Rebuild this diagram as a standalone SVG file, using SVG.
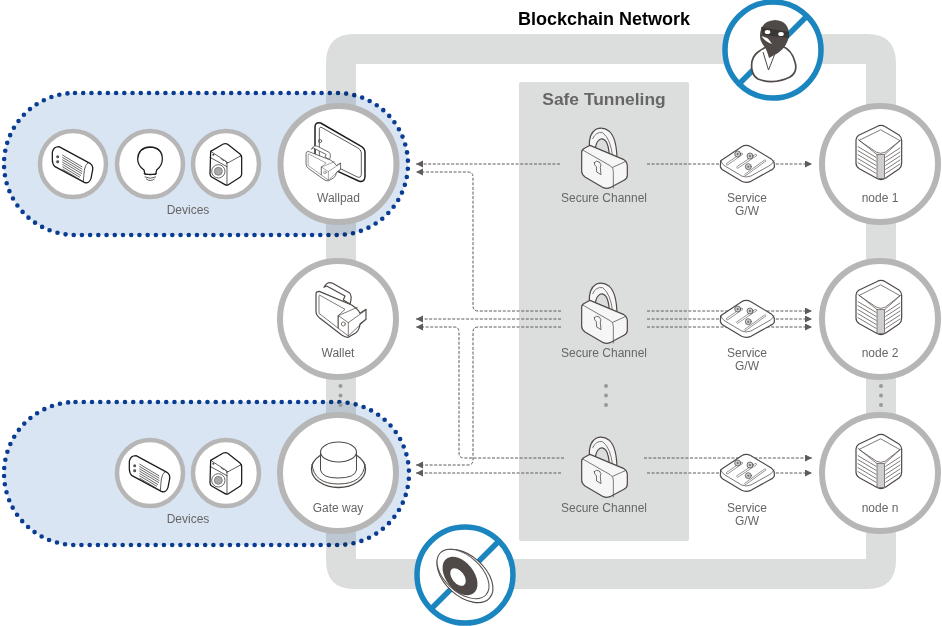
<svg xmlns="http://www.w3.org/2000/svg" width="942" height="626" viewBox="0 0 942 626">
<style>
text{font-family:"Liberation Sans",Arial,sans-serif;font-size:12px;fill:#666;text-anchor:middle}
.ttl{font-weight:bold;font-size:18px;fill:#000}
.safe{font-weight:bold;font-size:17.4px;fill:#666}
.pill{fill:#dae5f3;stroke:#0a3d91;stroke-width:4.6;stroke-linecap:round;mix-blend-mode:multiply}
.big{fill:#fff;stroke:#b5b6b5;stroke-width:6}
.small{fill:#fff;stroke:#b5b6b5;stroke-width:4.5}
.ban{fill:#fff;stroke:#1b85bf;stroke-width:5.5}
.slash{stroke:#1b85bf;stroke-width:5.5;fill:none}
.conn{fill:none;stroke:#5f5b58;stroke-width:1;stroke-dasharray:3 1.6}
.ic{fill:#fff;stroke:#4f4a47;stroke-width:3.6;stroke-linejoin:round;stroke-linecap:round}
.th{fill:none;stroke:#4f4a47;stroke-width:2.2;stroke-linecap:round;stroke-linejoin:round}
.bk{fill:#fff;stroke:#1c1c1c;stroke-width:3.8;stroke-linejoin:round;stroke-linecap:round}
.bt{fill:none;stroke:#222;stroke-width:2.2;stroke-linecap:round;stroke-linejoin:round}
.dot{fill:#999}
</style>
<defs>
<marker id="ah" markerUnits="userSpaceOnUse" markerWidth="8" markerHeight="8" refX="7" refY="3.5" orient="auto"><path d="M0 0L7 3.5L0 7Z" fill="#5f5b58"/></marker>
<g id="lock" transform="scale(.3333)">
<path class="ic" style="fill:#f6f6f6" d="M58 75Q56 35 78 22Q98 12 118 28Q140 48 141 112L118 100Q116 70 108 58Q96 45 86 55Q78 62 76 80Z"/>
<path class="th" d="M68 50Q78 28 98 32Q122 50 128 104"/>
<path class="ic" style="fill:#f6f6f6" d="M35 90Q35 82 45 78L60 70L160 112Q172 120 172 132V160Q172 170 162 175L120 197Q110 201 100 197L45 165Q35 158 35 148Z"/>
<path class="th" d="M38 84L122 132Q130 137 130 148V198M128 136L168 118"/>
<path class="ic" style="stroke-width:2.4;fill:#f6f6f6" d="M73 122Q78 114 88 120Q96 128 91 136L93 158L80 150L79 134Q72 130 73 122Z"/>
</g>
<g id="svc" transform="scale(.3333)">
<path class="ic" d="M17 62L80 20Q93 12 108 20L170 58Q178 65 178 72V82Q175 88 165 92L108 124Q93 130 80 124L30 94Q18 88 16 80Z"/>
<path class="th" d="M18 64Q20 72 30 78L80 108Q93 114 108 108L165 76Q175 70 177 62"/>
<path d="M37 72L80 42M68 82L122 46M92 104L150 62" stroke="#777" stroke-width="7" stroke-linecap="round" fill="none"/>
<path d="M37 72L80 42M68 82L122 46M92 104L150 62" stroke="#fff" stroke-width="3.4" stroke-linecap="round" fill="none"/>
<circle class="th" style="fill:#ccc" cx="68" cy="42" r="9"/><circle class="th" style="fill:#ccc" cx="105" cy="48" r="9"/><circle class="th" style="fill:#ccc" cx="100" cy="80" r="9"/>
<circle cx="68" cy="42" r="3" fill="#666"/><circle cx="105" cy="48" r="3" fill="#666"/><circle cx="100" cy="80" r="3" fill="#666"/>
</g>
<g id="cube" transform="scale(.3333)">
<path class="ic" d="M80 20Q93 12 106 20L148 46Q155 52 155 60V130Q155 140 148 146L106 175Q93 183 80 175L28 146Q18 140 18 130V60Q18 52 26 46Z"/>
<path class="th" d="M93 30L150 62L105 97Q93 103 80 97L28 62ZM24 58L80 103M155 58L105 103"/>
<rect x="81" y="104" width="23" height="72" fill="#cfcfcf" stroke="#4f4a47" stroke-width="2"/>
<path class="th" d="M24 80L78 112M24 92L78 124M24 104L78 136M24 116L78 148M24 128L78 160M107 112L150 84M107 124L150 96M107 136L150 108M107 148L150 120M107 160L150 132"/>
</g>
<g id="speaker" transform="scale(.3333)">
<path class="bk" d="M22 52Q25 35 42 35L135 85Q145 92 143 105L138 130Q132 148 118 142L30 95Q22 88 22 75Z"/>
<path class="bt" d="M130 82Q120 90 118 105L115 140"/>
<path d="M52 60L112 96M52 67L112 103M52 74L112 110M52 81L111 116M52 88L108 122M52 95L105 127M52 102L102 132" stroke="#444" stroke-width="2.4" fill="none"/>
<circle cx="38" cy="65" r="4.500" fill="#555"/><circle cx="38" cy="80" r="4.500" fill="#555"/>
</g>
<g id="washer" transform="scale(.3333)">
<g transform="translate(-495 -25)">
<path class="bk" d="M497 50L535 28Q542 25 548 29L585 58Q590 63 590 70V118Q590 124 585 128L550 150Q545 153 540 150L500 127Q495 123 495 117Z"/>
<path class="bt" d="M497 50L540 78Q546 82 546 90V152M495 68L546 96M590 62L546 86"/>
<circle cx="520" cy="110" r="20" fill="#fff" stroke="#666" stroke-width="3"/>
<circle cx="520" cy="110" r="12" fill="#aaa" stroke="#666" stroke-width="2"/>
<circle cx="505" cy="60" r="3" fill="#444"/>
<path class="bt" d="M528 72L536 78M540 78L548 84"/>
</g>
</g>
<g id="wl">
<path class="ic" d="M162 112Q172 92 188 100L238 128Q248 138 240 162L220 150L225 138L170 108Z"/>
<path class="ic" d="M138 132Q138 124 148 124L245 165Q265 178 270 190L288 178V208L270 222Q268 240 258 248L235 262Q225 262 215 255L150 205Q138 195 138 185Z"/>
<path class="th" d="M147 138V190L205 235V197L225 178L150 136ZM205 197L235 218V258L205 235ZM235 218L288 180M205 197L262 172M235 258L288 208"/>
<circle class="th" cx="220" cy="222" r="6"/>
</g>
</defs>

<g id="frame"><path fill="#dcdedd" fill-rule="evenodd" d="M354 34H867Q896 34 896 63V560Q896 589 867 589H354Q326 589 326 560V63Q326 34 354 34ZM356 64V559H866V64Z"/></g>
<rect id="tunnel" x="519" y="82" width="170" height="459" rx="2" fill="#dcdedd"/>
<text class="ttl" x="604" y="25">Blockchain Network</text>
<text class="safe" x="604" y="105">Safe Tunneling</text>

<rect id="pill1" class="pill" x="4" y="93" width="404" height="142" rx="71" stroke-dasharray="0 8.22"/>
<rect id="pill2" class="pill" x="4" y="402" width="405" height="143" rx="71.5" stroke-dasharray="0 8.248"/>

<g id="connectors">
<path class="conn" marker-end="url(#ah)" d="M560 164H416"/>
<path class="conn" marker-end="url(#ah)" d="M561 311H478Q473 311 473 306V177Q473 172 468 172H416"/>
<path class="conn" marker-end="url(#ah)" d="M561 319H416"/>
<path class="conn" marker-end="url(#ah)" d="M564 458H464Q459 458 459 453V332Q459 327 454 327H416"/>
<path class="conn" marker-end="url(#ah)" d="M561 327H478Q473 327 473 332V460Q473 465 468 465H416"/>
<path class="conn" marker-end="url(#ah)" d="M561 473H416"/>
<path class="conn" marker-end="url(#ah)" d="M647 164H812"/>
<path class="conn" marker-end="url(#ah)" d="M647 311H812"/>
<path class="conn" marker-end="url(#ah)" d="M647 319H812"/>
<path class="conn" marker-end="url(#ah)" d="M647 327H812"/>
<path class="conn" marker-end="url(#ah)" d="M644 458H812"/>
<path class="conn" marker-end="url(#ah)" d="M647 473H812"/>
</g>

<g id="dev1"><circle class="small" cx="73" cy="164" r="33"/><use href="#speaker" x="45" y="135"/></g>
<g id="dev2"><circle class="small" cx="150" cy="164" r="33"/>
<g transform="translate(45 135) scale(.3333)"><path class="bk" d="M297 105Q278 92 278 72Q280 38 315 36Q352 38 352 72Q352 92 335 105L332 118H300Z"/><path class="bt" d="M297 116Q316 124 335 116M300 126Q316 134 332 126M304 132Q316 142 328 132"/></g></g>
<g id="dev3"><circle class="small" cx="226" cy="164" r="33"/><use href="#washer" x="210" y="143"/></g>
<text x="188" y="214">Devices</text>

<g id="wallpad"><circle class="big" cx="338.5" cy="164" r="58"/>
<g transform="translate(300 115) scale(.3333)">
<path class="bk" style="stroke-width:4.4" d="M45 36Q45 20 62 24L180 92Q195 100 195 112V186Q193 204 176 198L115 170L60 140Q45 132 45 120Z"/>
<path class="bt" d="M58 42Q58 34 66 38L172 98Q184 104 184 114V178Q183 190 172 186L66 134Q58 130 58 120Z"/>
<circle class="th" cx="60" cy="78" r="5"/>
<use href="#wl" transform="translate(-77 30) scale(.69 .64)"/>
</g><text x="338.5" y="202">Wallpad</text></g>

<g id="wallet"><circle class="big" cx="338" cy="319" r="58"/>
<use href="#wl" transform="translate(270 250) scale(.3333)"/><text x="338" y="357">Wallet</text></g>

<g id="dev4"><circle class="small" cx="150" cy="473" r="33"/><use href="#speaker" x="122" y="444"/></g>
<g id="dev5"><circle class="small" cx="226" cy="473" r="33"/><use href="#washer" x="210" y="452"/></g>
<text x="188" y="523">Devices</text>

<g id="gateway"><circle class="big" cx="338" cy="473" r="58"/>
<ellipse cx="338.5" cy="469" rx="27" ry="18.500" fill="#fff" stroke="#4f4a47" stroke-width="1.3"/>
<path d="M312 464Q314 484 338.500 484Q363 484 365 464" fill="none" stroke="#4f4a47" stroke-width="1"/>
<path d="M320.500 452V470Q322 478 338 478Q355 478 356.500 470V452Z" fill="#fff" stroke="#4f4a47" stroke-width="1"/>
<ellipse cx="338.500" cy="452" rx="18" ry="10" fill="#fff" stroke="#4f4a47" stroke-width="1.1"/>
<text x="338" y="512">Gate way</text></g>

<g id="lock1"><use href="#lock" x="570" y="122"/><text x="604" y="202">Secure Channel</text></g>
<g id="lock2"><use href="#lock" x="570" y="277"/><text x="604" y="357">Secure Channel</text></g>
<g id="lock3"><use href="#lock" x="570" y="431"/><text x="604" y="511.5">Secure Channel</text></g>

<g id="gw1"><use href="#svc" x="715" y="140"/><text x="747" y="202">Service</text><text x="747" y="215">G/W</text></g>
<g id="gw2"><use href="#svc" x="715" y="295"/><text x="747" y="357">Service</text><text x="747" y="370">G/W</text></g>
<g id="gw3"><use href="#svc" x="715" y="449"/><text x="747" y="511.5">Service</text><text x="747" y="524.5">G/W</text></g>

<g id="node1"><circle class="big" cx="880" cy="164" r="58"/><use href="#cube" x="850" y="120"/><text x="880" y="202">node 1</text></g>
<g id="node2"><circle class="big" cx="880" cy="319" r="58"/><use href="#cube" x="850" y="275"/><text x="880" y="357">node 2</text></g>
<g id="node3"><circle class="big" cx="880" cy="473" r="58"/><use href="#cube" x="850" y="429"/><text x="880" y="511.5">node n</text></g>

<circle class="dot" cx="606" cy="386" r="2"/><circle class="dot" cx="606" cy="395.5" r="2"/><circle class="dot" cx="606" cy="405" r="2"/>
<circle class="dot" cx="340.5" cy="386" r="2"/><circle class="dot" cx="340.5" cy="395.5" r="2"/><circle class="dot" cx="340.5" cy="405" r="2"/>
<circle class="dot" cx="881" cy="386" r="2"/><circle class="dot" cx="881" cy="395.5" r="2"/><circle class="dot" cx="881" cy="405" r="2"/>

<g id="thief"><circle class="ban" cx="773" cy="50" r="48"/><path class="slash" d="M739 84L807 16"/>
<path d="M752 70Q750 58 758 52Q762 49 768 46L782 46Q792 50 795 62Q798 72 790 77Q774 85 758 79Q753 76 752 70Z" fill="#fff" stroke="#4f4a47" stroke-width="1.7"/>
<path d="M763 52L768.500 70L776 51" fill="none" stroke="#4f4a47" stroke-width="1"/>
<path d="M760 36Q760 21 775 20Q789 21 789 35Q788 46 778 53L769 58Q767 50 764 46Q760 41 760 36Z" fill="#4f4a47"/>
<path d="M761.500 36Q765 42 772 44Q768 38 767 38Z" fill="#fff"/>
<path d="M761 27L789 32V38L763 35Z" fill="#3a3634"/>
<ellipse cx="767.500" cy="32" rx="2.800" ry="2.100" fill="#fff"/><ellipse cx="781" cy="34" rx="2.800" ry="2.100" fill="#fff"/>
</g>

<g id="token"><circle class="ban" cx="465" cy="575" r="48"/><path class="slash" d="M431 609L499 541"/>
<ellipse cx="465" cy="576" rx="33" ry="20" transform="rotate(42 465 576)" fill="#fff" stroke="#4f4a47" stroke-width="1.1"/>
<ellipse cx="463" cy="574" rx="31" ry="18" transform="rotate(42 463 574)" fill="#fff" stroke="#4f4a47" stroke-width="1"/>
<ellipse cx="460" cy="576" rx="22" ry="14" transform="rotate(52 460 576)" fill="#4f4a47"/>
<ellipse cx="458" cy="577" rx="10" ry="6" transform="rotate(52 458 577)" fill="#fff"/>
</g>
</svg>
